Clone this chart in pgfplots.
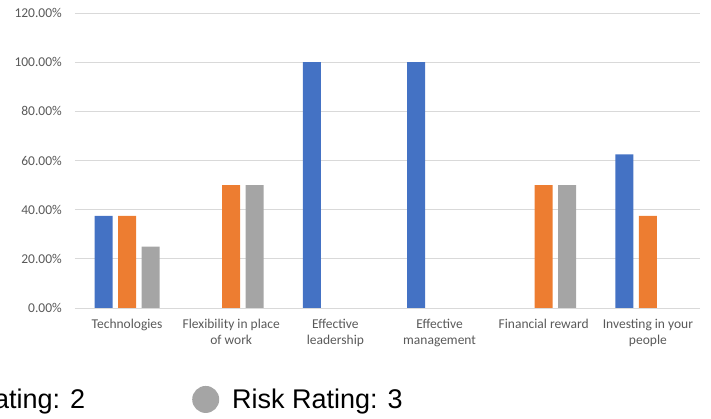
\documentclass[border=0pt]{standalone}
\usepackage{pgfplots}
\pgfplotsset{compat=1.18}
\usepackage{fontspec}
\setmainfont{Carlito}
\newfontfamily\legendfont{Liberation Sans}
\definecolor{cblue}{HTML}{4472C4}
\definecolor{corange}{HTML}{ED7D31}
\definecolor{cgray}{HTML}{A5A5A5}
\definecolor{ctext}{HTML}{595959}
\definecolor{cgrid}{HTML}{D9D9D9}
\pgfplotsset{circlegend/.style={legend image code/.code={\fill[##1] (13.5pt,0pt) circle (13.5pt);}}}
\begin{document}
\begin{tikzpicture}
\begin{axis}[
  at={(75pt,111pt)}, anchor=south west, scale only axis,
  width=625pt, height=295pt,
  ybar=5.5pt, bar width=18pt,
  xmin=-0.5, xmax=5.5, ymin=0, ymax=120,
  xtick={0,1,2,3,4,5},
  xticklabels={Technologies, {Flexibility in place\\of work}, {Effective\\leadership}, {Effective\\management}, {Financial reward}, {Investing in your\\people}},
  ytick={0,20,40,60,80,100,120},
  yticklabels={0.00\%,20.00\%,40.00\%,60.00\%,80.00\%,100.00\%,120.00\%},
  axis line style={draw=none},
  major tick length=0pt,
  ymajorgrids, major grid style={draw=cgrid, line width=0.9pt},
  tick label style={font=\fontsize{13.5}{16}\selectfont, text=ctext},
  xticklabel style={align=center, anchor=north, inner sep=0pt, yshift=-11pt},
  yticklabel style={anchor=east, inner sep=0pt, xshift=-13pt},
  legend columns=3,
  legend style={at={(0.5248,-0.31)}, anchor=east, draw=none, fill=none, inner sep=0pt,
    font=\legendfont\fontsize{27}{33}\selectfont, text=black,
    nodes={inner sep=0pt},
    /tikz/every odd column/.append style={column sep=13pt},
    /tikz/every even column/.append style={column sep=107pt}},
  legend cell align=left,
]
\addplot[fill=cblue, draw=none, circlegend] coordinates {(0,37.5) (2,100) (3,100) (5,62.5)};
\addplot[fill=corange, draw=none, circlegend] coordinates {(0,37.5) (1,50) (4,50) (5,37.5)};
\addplot[fill=cgray, draw=none, circlegend] coordinates {(0,25) (1,50) (4,50)};
\legend{Risk Rating: 1, Risk Rating: 2, Risk Rating: 3}
\end{axis}
\pgfresetboundingbox
\path[use as bounding box] (0,0) rectangle (711pt,419pt);
\end{tikzpicture}
\end{document}
